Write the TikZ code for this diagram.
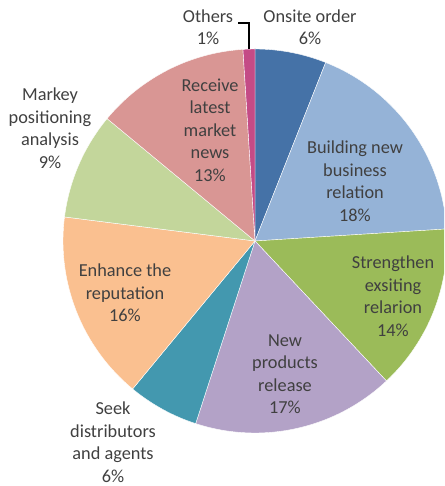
\documentclass[tikz,border=0pt]{standalone}
\usepackage{fontspec}
\setmainfont{Carlito}
\usepackage{xcolor}
\usepackage{tikz}
\usetikzlibrary{calc}

\definecolor{onsitec}{RGB}{69,114,167}
\definecolor{buildc}{RGB}{149,179,215}
\definecolor{strengthc}{RGB}{155,187,89}
\definecolor{newprodc}{RGB}{179,162,199}
\definecolor{seekc}{RGB}{67,152,175}
\definecolor{enhancec}{RGB}{250,192,144}
\definecolor{markeyc}{RGB}{195,214,155}
\definecolor{receivec}{RGB}{217,150,148}
\definecolor{othersc}{RGB}{196,75,134}
\definecolor{labelc}{RGB}{64,64,64}

\tikzset{
	pielabel/.style={align=center, text=labelc, inner sep=0pt,
		font=\fontsize{18.3}{22.5}\selectfont},
}

\begin{document}
\begin{tikzpicture}[x=1pt, y=1pt]
					\def\pieR{192};

					\useasboundingbox (0,0) rectangle (444,486);

					\begin{scope}
						\clip (0,0) rectangle (444,486);
						\begin{scope}[shift={(255,245)}]
							\foreach \pct/\slicec [remember=\stop as \start (initially 90)] in
								{6/onsitec, 18/buildc, 14/strengthc, 17/newprodc, 6/seekc,
								 16/enhancec, 9/markeyc, 13/receivec, 1/othersc}
							{
								\pgfmathsetmacro\stop{\start-3.6*\pct}
								\filldraw[fill=\slicec, draw=white, line width=0.4pt]
									(0,0) -- (\start:\pieR) arc [start angle=\start, end angle=\stop, radius=\pieR] -- cycle;
							}
							\coordinate (otherstip) at (91.8:\pieR);
						\end{scope}
					\end{scope}

					\begin{scope}
						\node[pielabel] (others) at (208,459) {Others\\1\%};
						\node[pielabel] (onsite) at (310,459) {Onsite order\\6\%};
						\node[pielabel] (building) at (355,305) {Building new\\business\\relation\\18\%};
						\node[pielabel] (strengthen) at (393,190) {Strengthen\\exsiting\\relarion\\14\%};
						\node[pielabel] (newprod) at (285,112) {New\\products\\release\\17\%};
						\node[pielabel] (seek) at (113,44) {Seek\\distributors\\and agents\\6\%};
						\node[pielabel] (enhance) at (125,193) {Enhance the\\reputation\\16\%};
						\node[pielabel] (markey) at (50,358) {Markey\\positioning\\analysis\\9\%};
						\node[pielabel] (receive) at (210,356) {Receive\\latest\\market\\news\\13\%};
					\end{scope}

					\draw[line width=1.5pt] (otherstip) |- ([xshift=5pt,yshift=4pt]others.east);
				\end{tikzpicture}
\end{document}
